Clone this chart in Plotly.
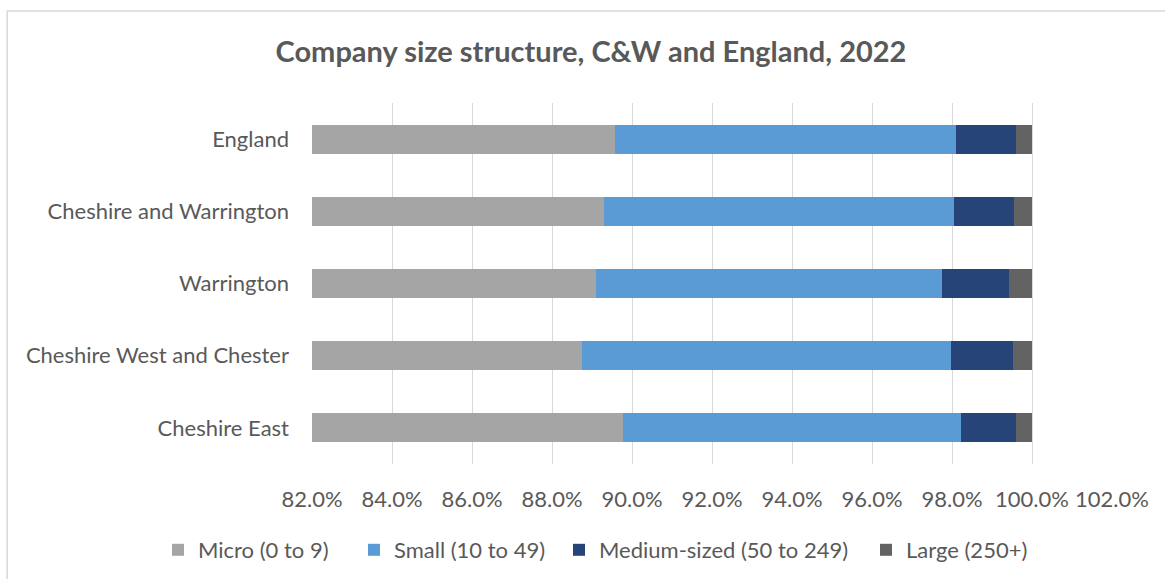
import plotly.graph_objects as go

areas = ["Cheshire East", "Cheshire West and Chester", "Warrington",
         "Cheshire and Warrington", "England"]
micro = [89.78, 88.76, 89.09, 89.29, 89.57]
small = [8.44, 9.22, 8.66, 8.76, 8.53]
medium = [1.39, 1.55, 1.68, 1.51, 1.51]
large = [0.39, 0.47, 0.57, 0.44, 0.39]

series = [
    ("Micro (0 to 9)", micro, "#a5a5a5"),
    ("Small (10 to 49)", small, "#5b9bd5"),
    ("Medium-sized (50 to 249)", medium, "#264478"),
    ("Large (250+)", large, "#636363"),
]
# left edge (px) of each legend entry, as in the original
legend_left = [158, 354, 559, 866]

font = "Lato, 'Open Sans', sans-serif"
grey = "#595959"

fig = go.Figure()
legends = {}
for i, (name, vals, col) in enumerate(series):
    lg = "legend" if i == 0 else "legend%d" % (i + 1)
    fig.add_trace(go.Bar(y=areas, x=vals, name=name, orientation="h",
                         legend=lg,
                         marker=dict(color=col, line=dict(width=0))))
    legends[lg] = dict(orientation="h", xref="container", yref="container",
                       x=legend_left[i] / 1165, y=1 - 550 / 579,
                       xanchor="left", yanchor="middle",
                       font=dict(size=22, color=grey), itemwidth=30,
                       bgcolor="rgba(0,0,0,0)")

fig.update_layout(
    barmode="stack",
    bargap=0.6,
    width=1165, height=579,
    margin=dict(l=312, r=53, t=103, b=115),
    paper_bgcolor="white", plot_bgcolor="white",
    font=dict(family=font, size=22, color=grey),
    title=dict(text="<b>Company size structure, C&W and England, 2022</b>",
               x=591 / 1165, xref="container", y=1 - 52 / 579, yref="container",
               xanchor="center", yanchor="middle",
               font=dict(size=29, color=grey, family=font)),
    showlegend=True,
    **legends,
)
fig.update_xaxes(range=[82, 102], dtick=2, tickformat=".1f", ticksuffix="%",
                 showgrid=True, gridcolor="#d9d9d9", gridwidth=1,
                 zeroline=False, showline=False, ticks="",
                 tickfont=dict(size=22, color=grey), ticklabelstandoff=20)
fig.update_yaxes(showgrid=False, ticks="", showline=False,
                 tickfont=dict(size=22, color=grey), ticklabelstandoff=22)

# outer chart border
fig.add_shape(type="rect", xref="paper", yref="paper",
              x0=-0.381, x1=1.3, y0=-0.6, y1=1.2548,
              line=dict(color="#d9d9d9", width=1.5), layer="below")

fig.write_html("out.html", config={"displayModeBar": False},
               post_script="document.body.style.margin='0';")
